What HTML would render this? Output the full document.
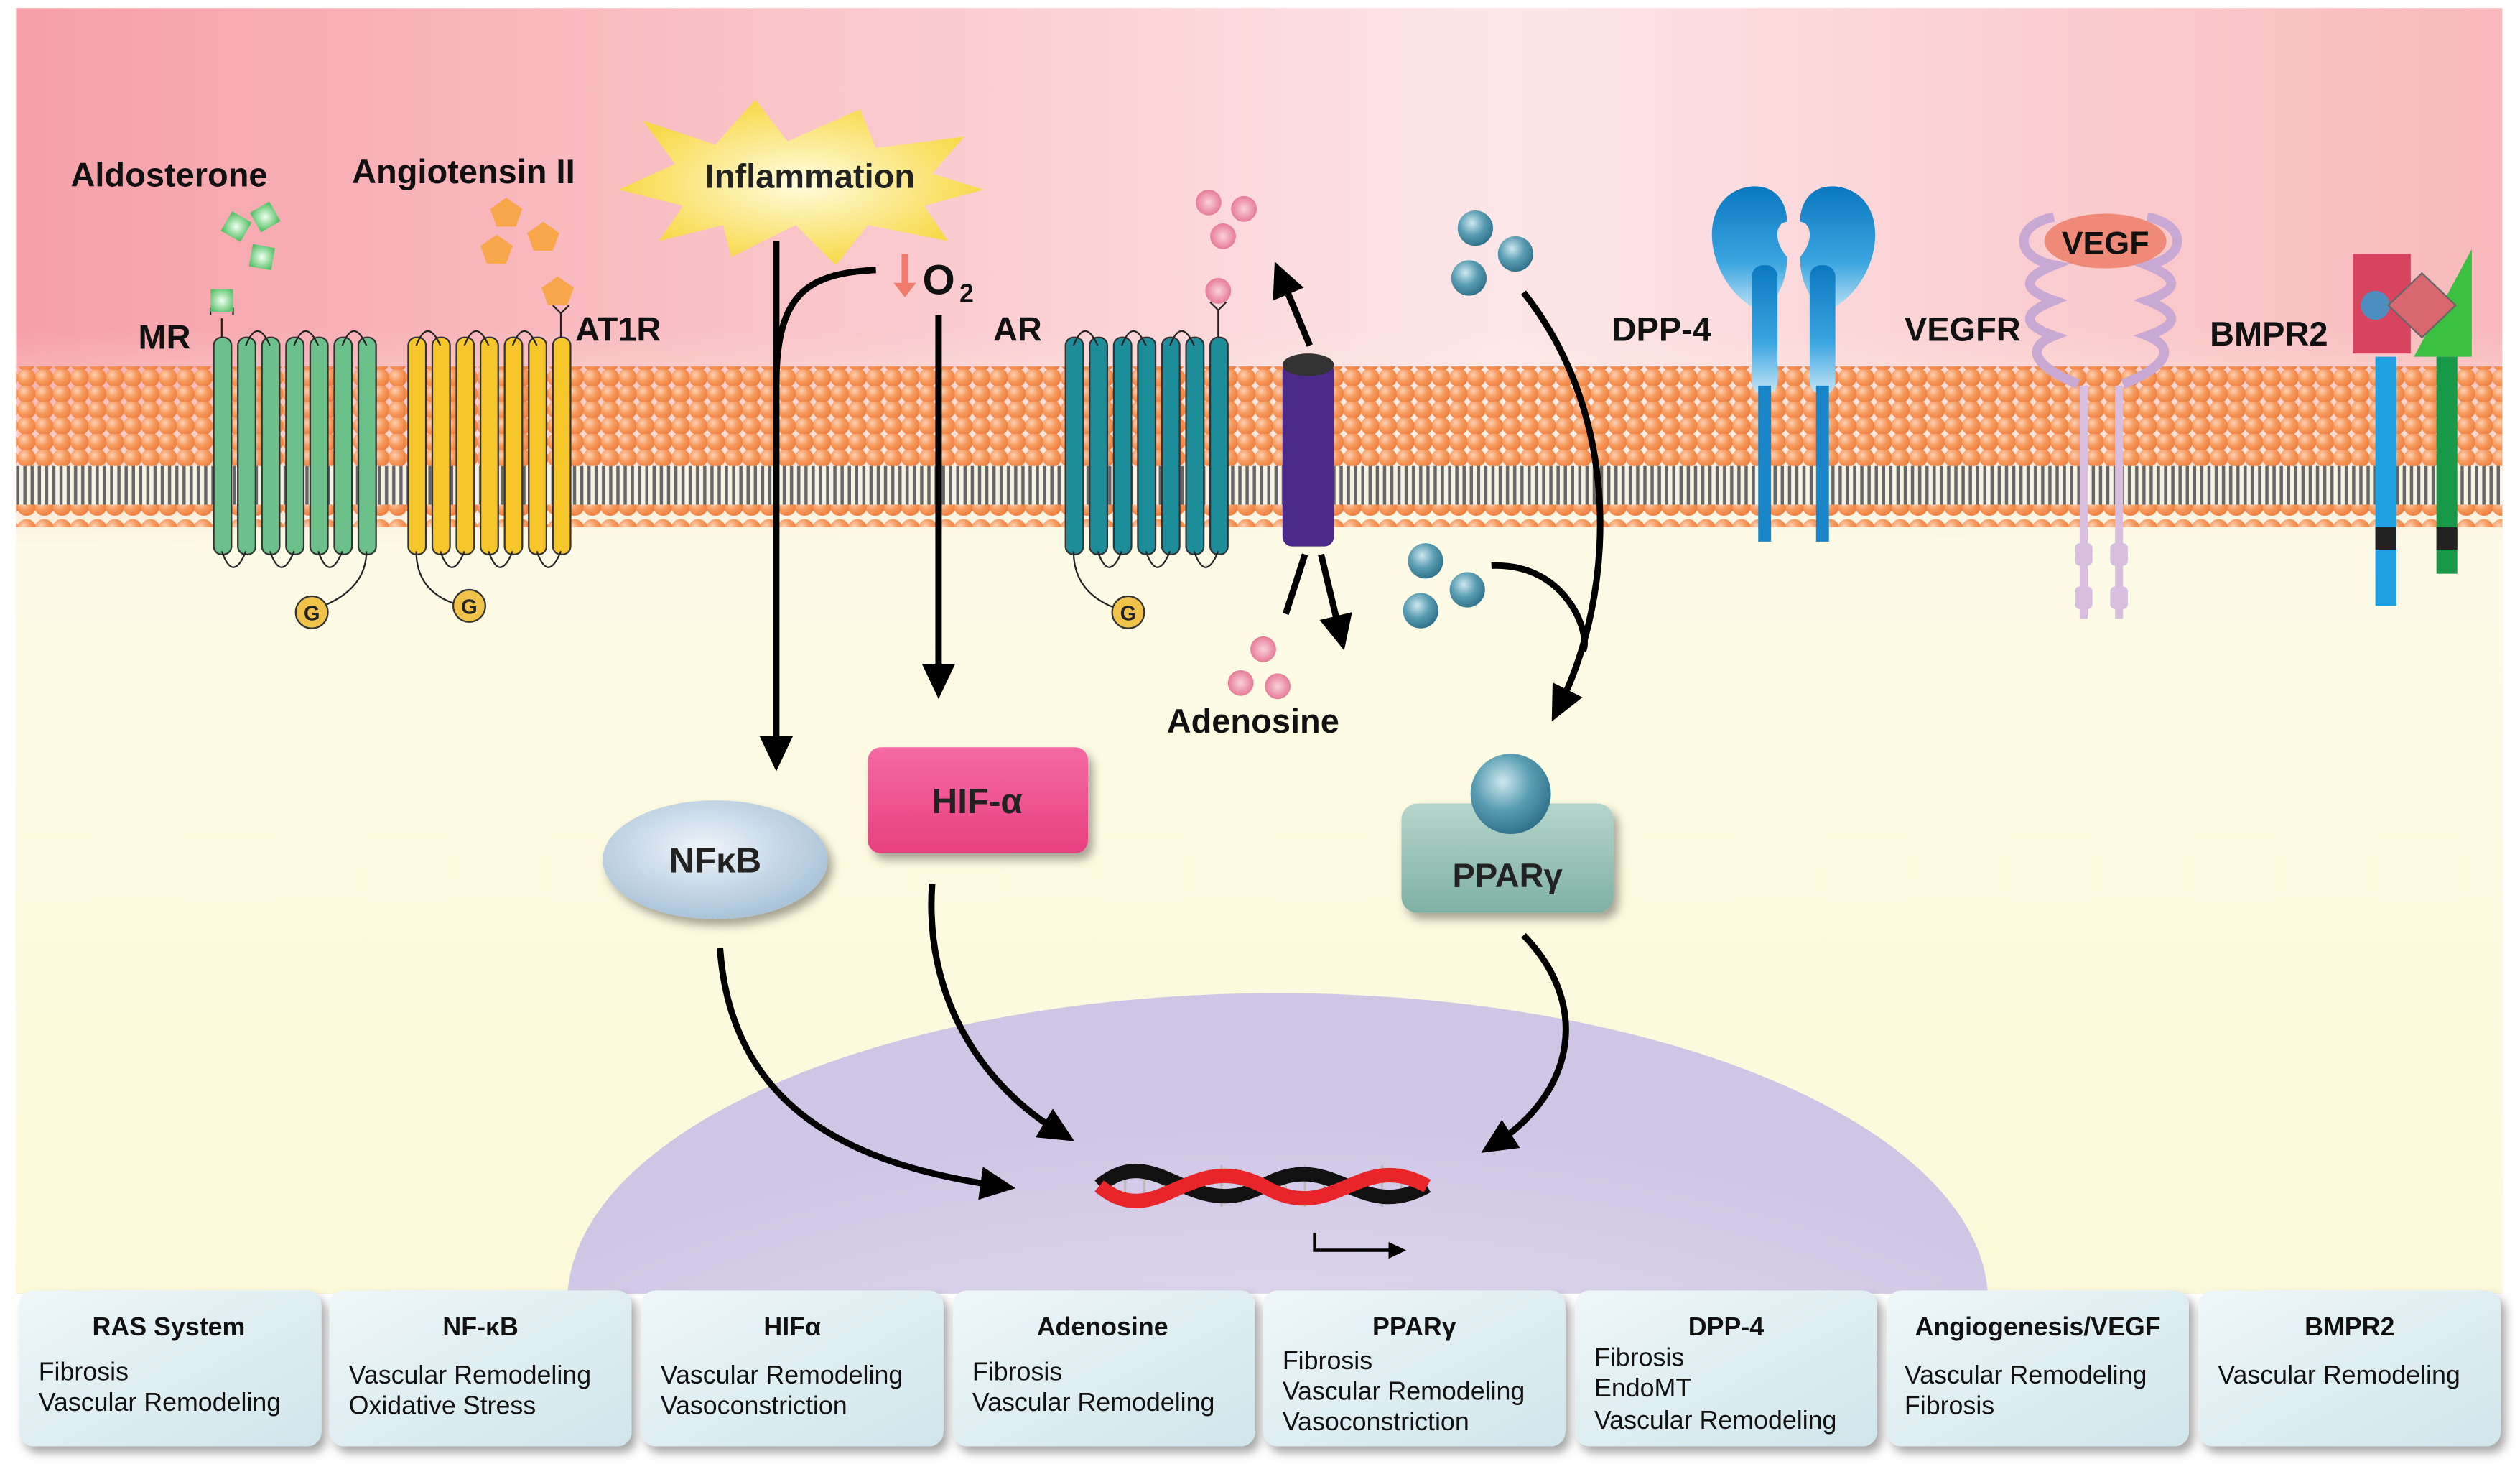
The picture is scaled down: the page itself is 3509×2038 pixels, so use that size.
<!DOCTYPE html>
<html><head><meta charset="utf-8"><style>
html,body{margin:0;padding:0;background:#fff;width:3509px;height:2038px;overflow:hidden;}
svg{display:block;}
text{font-family:"Liberation Sans",sans-serif;}
</style></head><body>
<svg width="3509" height="2038" viewBox="0 0 1568 911" preserveAspectRatio="none" xmlns="http://www.w3.org/2000/svg">
<defs>
<linearGradient id="bgH" x1="0" y1="0" x2="1" y2="0">
<stop offset="0" stop-color="#f6a0a7"/><stop offset="0.6" stop-color="#fde6e8"/><stop offset="1" stop-color="#f8b9bc"/></linearGradient>
<linearGradient id="fadeV" x1="0" y1="0" x2="0" y2="1">
<stop offset="0" stop-color="#fdfbe6" stop-opacity="0"/><stop offset="0.25" stop-color="#fdfbe6" stop-opacity="0"/><stop offset="0.42" stop-color="#fdfbe6" stop-opacity="1"/><stop offset="1" stop-color="#fcf9d8"/></linearGradient>
<radialGradient id="nuc" cx="0.5" cy="0.9" r="0.7"><stop offset="0" stop-color="#ebe6f3"/><stop offset="1" stop-color="#cfc6e6"/></radialGradient>
<radialGradient id="orb" cx="0.35" cy="0.35" r="0.7"><stop offset="0" stop-color="#fcd1b5"/><stop offset="0.5" stop-color="#f79b5e"/><stop offset="1" stop-color="#ee7d3e"/></radialGradient>
<pattern id="heads" width="11" height="10" patternUnits="userSpaceOnUse"><circle cx="5.5" cy="5" r="5.8" fill="url(#orb)"/></pattern>
<pattern id="tails" width="4.5" height="30" patternUnits="userSpaceOnUse"><rect x="1" y="0" width="2" height="30" fill="#666"/></pattern>
<pattern id="heads2" width="11" height="14" patternUnits="userSpaceOnUse"><circle cx="5.5" cy="7" r="6" fill="url(#orb)"/></pattern>
<radialGradient id="teal" cx="0.4" cy="0.35" r="0.7"><stop offset="0" stop-color="#cfe8ee"/><stop offset="0.5" stop-color="#5a9eb3"/><stop offset="1" stop-color="#2b6d86"/></radialGradient>
<radialGradient id="pink" cx="0.5" cy="0.5" r="0.6"><stop offset="0" stop-color="#f8d1da"/><stop offset="1" stop-color="#e46a8a"/></radialGradient>
<radialGradient id="grn" cx="0.5" cy="0.5" r="0.6"><stop offset="0" stop-color="#f2fff0"/><stop offset="1" stop-color="#58c26a"/></radialGradient>
<linearGradient id="box" x1="0" y1="0" x2="1" y2="1"><stop offset="0" stop-color="#eef6f8"/><stop offset="1" stop-color="#cfe6ec"/></linearGradient>
<linearGradient id="hif" x1="0" y1="0" x2="0" y2="1"><stop offset="0" stop-color="#f56aa4"/><stop offset="1" stop-color="#e8407f"/></linearGradient>
<radialGradient id="nfkb" cx="0.45" cy="0.4" r="0.6"><stop offset="0" stop-color="#eef4fa"/><stop offset="1" stop-color="#a9c3d9"/></radialGradient>
<linearGradient id="ppar" x1="0" y1="0" x2="0" y2="1"><stop offset="0" stop-color="#b5d5cc"/><stop offset="1" stop-color="#7fb0a4"/></linearGradient>
<radialGradient id="star" cx="0.5" cy="0.5" r="0.5"><stop offset="0" stop-color="#fffde0"/><stop offset="1" stop-color="#f8d94a"/></radialGradient>
<linearGradient id="dpp" x1="0" y1="0" x2="0" y2="1"><stop offset="0" stop-color="#0a78c0"/><stop offset="0.6" stop-color="#3aa5e0"/><stop offset="1" stop-color="#c5e6f7"/></linearGradient>
<marker id="ah" markerWidth="6" markerHeight="6" refX="3" refY="3" orient="auto" markerUnits="strokeWidth"><path d="M0,0.4 L5.5,3 L0,5.6 z" fill="#000"/></marker>
<filter id="sh" x="-20%" y="-20%" width="140%" height="150%"><feDropShadow dx="3" dy="4" stdDeviation="3" flood-opacity="0.35"/></filter>
<clipPath id="bgc"><rect x="10" y="5" width="1547" height="800"/></clipPath>
</defs>

<!-- background -->
<rect x="10" y="5" width="1547" height="800" fill="url(#bgH)"/>
<rect x="10" y="5" width="1547" height="800" fill="url(#fadeV)"/>
<ellipse cx="795" cy="810" rx="442" ry="192" fill="url(#nuc)" clip-path="url(#bgc)"/>

<!-- membrane -->
<rect x="10" y="228" width="1547" height="64" fill="url(#heads)"/>
<rect x="10" y="290" width="1547" height="28" fill="#f6f3e4"/>
<rect x="10" y="290" width="1547" height="28" fill="url(#tails)"/>
<rect x="10" y="314" width="1547" height="14" fill="url(#heads2)"/>

<g stroke="#333" stroke-width="1">
<g fill="#6cc08a">
<rect x="133" y="210" width="11" height="135" rx="5"/><rect x="148" y="210" width="11" height="135" rx="5"/><rect x="163" y="210" width="11" height="135" rx="5"/><rect x="178" y="210" width="11" height="135" rx="5"/><rect x="193" y="210" width="11" height="135" rx="5"/><rect x="208" y="210" width="11" height="135" rx="5"/><rect x="223" y="210" width="11" height="135" rx="5"/>
</g>
<g fill="#f6c62a">
<rect x="254" y="210" width="11" height="135" rx="5"/><rect x="269" y="210" width="11" height="135" rx="5"/><rect x="284" y="210" width="11" height="135" rx="5"/><rect x="299" y="210" width="11" height="135" rx="5"/><rect x="314" y="210" width="11" height="135" rx="5"/><rect x="329" y="210" width="11" height="135" rx="5"/><rect x="344" y="210" width="11" height="135" rx="5"/>
</g>
<g fill="#1d8d9a">
<rect x="663" y="210" width="11" height="135" rx="5"/><rect x="678" y="210" width="11" height="135" rx="5"/><rect x="693" y="210" width="11" height="135" rx="5"/><rect x="708" y="210" width="11" height="135" rx="5"/><rect x="723" y="210" width="11" height="135" rx="5"/><rect x="738" y="210" width="11" height="135" rx="5"/><rect x="753" y="210" width="11" height="135" rx="5"/>
</g>
<g fill="none" stroke="#222">
<path d="M153,215 q7,-18 15,0 M183,215 q7,-18 15,0 M213,215 q7,-18 15,0"/>
<path d="M259,215 q7,-18 15,0 M289,215 q7,-18 15,0 M319,215 q7,-18 15,0"/>
<path d="M668,215 q7,-18 15,0 M698,215 q7,-18 15,0 M728,215 q7,-18 15,0"/>
<path d="M138,343 q7,20 15,0 M168,343 q7,20 15,0 M198,343 q7,20 15,0 M228,343 q0,25 -32,36"/>
<path d="M274,343 q7,20 15,0 M304,343 q7,20 15,0 M334,343 q7,20 15,0 M259,343 q0,25 25,33"/>
<path d="M683,343 q7,20 15,0 M713,343 q7,20 15,0 M743,343 q7,20 15,0 M668,343 q0,25 25,35"/>
<path d="M138,210 v-12 M131,196 v-4 h14 v4"/>
<path d="M349,210 v-15 l-5,-5 M349,195 l5,-5"/>
<path d="M758,210 v-17 l-5,-5 M758,193 l5,-5"/>
</g>
</g>
<g stroke="#333" stroke-width="1" fill="#f1c24a">
<circle cx="194" cy="381" r="10"/><circle cx="292" cy="377" r="10"/><circle cx="702" cy="381" r="10"/>
</g>
<g font-weight="bold" font-size="13" text-anchor="middle" fill="#222">
<text x="194" y="386">G</text><text x="292" y="382">G</text><text x="702" y="386">G</text>
</g>

<g fill="url(#grn)">
<rect x="131" y="180" width="14" height="14"/>
<rect x="140" y="134" width="14" height="14" transform="rotate(30 147 141)"/>
<rect x="158" y="128" width="14" height="14" transform="rotate(-30 165 135)"/>
<rect x="156" y="153" width="14" height="14" transform="rotate(10 163 160)"/>
</g>
<g fill="#f8a64a">
<polygon points="315,123 325,130 321,141 309,141 305,130"/>
<polygon points="338,138 348,145 344,156 332,156 328,145"/>
<polygon points="309,146 319,153 315,164 303,164 299,153"/>
<polygon points="347,172 357,179 353,190 341,190 337,179"/>
</g>
<g fill="url(#pink)">
<circle cx="752" cy="126" r="8"/><circle cx="774" cy="130" r="8"/><circle cx="761" cy="147" r="8"/><circle cx="758" cy="181" r="8"/>
<circle cx="786" cy="404" r="8"/><circle cx="772" cy="425" r="8"/><circle cx="795" cy="427" r="8"/>
</g>
<g fill="url(#teal)">
<circle cx="918" cy="142" r="11"/><circle cx="943" cy="158" r="11"/><circle cx="914" cy="173" r="11"/>
<circle cx="887" cy="349" r="11"/><circle cx="913" cy="367" r="11"/><circle cx="884" cy="380" r="11"/>
</g>

<rect x="798" y="225" width="32" height="115" rx="6" fill="#4b2a8a"/>
<ellipse cx="814" cy="227" rx="16" ry="7" fill="#333"/>

<!-- DPP-4 -->
<g fill="url(#dpp)">
<path d="M1098,195 C1060,180 1052,120 1090,116 C1108,115 1112,130 1112,138 C1106,138 1102,148 1112,160 C1112,175 1106,185 1098,195z"/>
<path d="M1134,195 C1172,180 1180,120 1142,116 C1124,115 1120,130 1120,138 C1126,138 1130,148 1120,160 C1120,175 1126,185 1134,195z"/>
<rect x="1090" y="165" width="16" height="80" rx="7"/><rect x="1126" y="165" width="16" height="80" rx="7"/>
</g>
<rect x="1094" y="240" width="8" height="97" fill="#1a86c8"/><rect x="1130" y="240" width="8" height="97" fill="#1a86c8"/>

<!-- VEGFR -->
<g fill="none" stroke="#c8a9d4" stroke-width="6">
<path d="M1278,135 c-25,5 -25,25 0,30 c-20,8 -20,15 0,22 c-20,8 -20,15 0,22 c-20,8 -10,20 15,30"/>
<path d="M1336,135 c25,5 25,25 0,30 c20,8 20,15 0,22 c20,8 20,15 0,22 c20,8 10,20 -15,30"/>
</g>
<rect x="1294" y="240" width="5" height="145" fill="#d8bfe0"/><rect x="1316" y="240" width="5" height="145" fill="#d8bfe0"/>
<g fill="#d8bfe0"><rect x="1291" y="338" width="11" height="14" rx="3"/><rect x="1313" y="338" width="11" height="14" rx="3"/><rect x="1291" y="365" width="11" height="14" rx="3"/><rect x="1313" y="365" width="11" height="14" rx="3"/></g>
<ellipse cx="1310" cy="150" rx="38" ry="17" fill="#f08a78"/>
<text x="1310" y="158" font-size="20" font-weight="bold" text-anchor="middle" fill="#111">VEGF</text>

<!-- BMPR2 -->
<rect x="1464" y="158" width="36" height="62" fill="#d8445e"/>
<circle cx="1478" cy="190" r="9" fill="#2aa0d8" opacity="0.8"/>
<polygon points="1538,155 1538,222 1502,222" fill="#3cc040"/>
<polygon points="1507,170 1528,190 1507,210 1486,190" fill="#d9676f" stroke="#666"/>
<rect x="1478" y="222" width="13" height="155" fill="#1fa0e0"/><rect x="1478" y="328" width="13" height="14" fill="#222"/>
<rect x="1516" y="222" width="13" height="135" fill="#18994a"/><rect x="1516" y="328" width="13" height="14" fill="#222"/>

<polygon fill="url(#star)" points="400,75 445,90 470,62 490,88 535,68 545,92 600,85 580,108 612,118 575,128 590,150 540,140 520,165 495,140 455,160 450,140 410,150 425,128 385,118 420,102" />
<text x="504" y="117" font-size="21" font-weight="bold" text-anchor="middle" fill="#222">Inflammation</text>

<g font-weight="bold" fill="#111" font-size="21">
<text x="44" y="116">Aldosterone</text>
<text x="219" y="114">Angiotensin II</text>
<text x="86" y="217">MR</text>
<text x="358" y="212">AT1R</text>
<text x="618" y="212">AR</text>
<text x="1003" y="212">DPP-4</text>
<text x="1185" y="212">VEGFR</text>
<text x="1375" y="215">BMPR2</text>
<text x="726" y="456">Adenosine</text>
<text x="574" y="183" font-size="26">O</text><text x="597" y="188" font-size="16">2</text>
</g>
<path d="M563,158 v22" stroke="#f07a6a" stroke-width="4"/><path d="M556,176 l7,9 l7,-9z" fill="#f07a6a"/>

<g fill="none" stroke="#000" stroke-width="4">
<path d="M483,150 V470" marker-end="url(#ah)"/>
<path d="M483,240 C483,185 500,170 545,168"/>
<path d="M584,196 V425" marker-end="url(#ah)"/>
<path d="M815,215 L797,172" marker-end="url(#ah)"/>
<path d="M800,382 L812,345"/>
<path d="M822,345 L834,395" marker-end="url(#ah)"/>
<path d="M948,182 C1010,260 1005,370 970,440" marker-end="url(#ah)"/>
<path d="M928,352 C975,350 990,395 985,405"/>
<path d="M448,590 C455,690 530,725 622,738" marker-end="url(#ah)"/>
<path d="M580,550 C575,620 610,675 660,705" marker-end="url(#ah)"/>
<path d="M948,582 C990,625 980,680 930,712" marker-end="url(#ah)"/>
<path d="M818,767 V778 H870" stroke-width="2" marker-end="url(#ah)"/>
</g>

<!-- DNA -->
<g stroke="#bbb" stroke-width="1.5"><path d="M700,727v22M712,725v26M724,730v16M748,730v16M760,725v26M772,727v22M800,727v22M812,725v26M824,730v16M848,730v16M860,725v26M872,727v22"/></g>
<g fill="none" stroke-width="9">
<path d="M684,738 C720,708 740,762 786,738 C830,713 845,762 888,738" stroke="#111"/>
<path d="M684,738 C720,768 740,714 786,738 C830,764 845,714 888,738" stroke="#e8262a"/>
</g>

<ellipse cx="445" cy="535" rx="70" ry="37" fill="url(#nfkb)" filter="url(#sh)"/>
<text x="445" y="543" font-size="22" font-weight="bold" text-anchor="middle" fill="#222">NFκB</text>
<rect x="540" y="465" width="137" height="66" rx="8" fill="url(#hif)" filter="url(#sh)"/>
<text x="608" y="506" font-size="22" font-weight="bold" text-anchor="middle" fill="#222">HIF-α</text>
<rect x="872" y="500" width="132" height="68" rx="10" fill="url(#ppar)" filter="url(#sh)"/>
<circle cx="940" cy="494" r="25" fill="url(#teal)"/>
<text x="938" y="552" font-size="21" font-weight="bold" text-anchor="middle" fill="#222">PPARγ</text>

<g filter="url(#sh)" fill="url(#box)">
<rect x="12" y="803" width="188" height="97" rx="9"/>
<rect x="205" y="803" width="188" height="97" rx="9"/>
<rect x="399" y="803" width="188" height="97" rx="9"/>
<rect x="593" y="803" width="188" height="97" rx="9"/>
<rect x="786" y="803" width="188" height="97" rx="9"/>
<rect x="980" y="803" width="188" height="97" rx="9"/>
<rect x="1174" y="803" width="188" height="97" rx="9"/>
<rect x="1368" y="803" width="188" height="97" rx="9"/>
</g>
<g font-size="16" font-weight="bold" text-anchor="middle" fill="#111">
<text x="105" y="831">RAS System</text><text x="299" y="831">NF-κB</text><text x="493" y="831">HIFα</text><text x="686" y="831">Adenosine</text>
<text x="880" y="831">PPARγ</text><text x="1074" y="831">DPP-4</text><text x="1268" y="831">Angiogenesis/VEGF</text><text x="1462" y="831">BMPR2</text>
</g>
<g font-size="16" fill="#111">
<text x="24" y="859">Fibrosis</text><text x="24" y="878">Vascular Remodeling</text>
<text x="217" y="861">Vascular Remodeling</text><text x="217" y="880">Oxidative Stress</text>
<text x="411" y="861">Vascular Remodeling</text><text x="411" y="880">Vasoconstriction</text>
<text x="605" y="859">Fibrosis</text><text x="605" y="878">Vascular Remodeling</text>
<text x="798" y="852">Fibrosis</text><text x="798" y="871">Vascular Remodeling</text><text x="798" y="890">Vasoconstriction</text>
<text x="992" y="850">Fibrosis</text><text x="992" y="869">EndoMT</text><text x="992" y="889">Vascular Remodeling</text>
<text x="1185" y="861">Vascular Remodeling</text><text x="1185" y="880">Fibrosis</text>
<text x="1380" y="861">Vascular Remodeling</text>
</g>
</svg>
</body></html>
